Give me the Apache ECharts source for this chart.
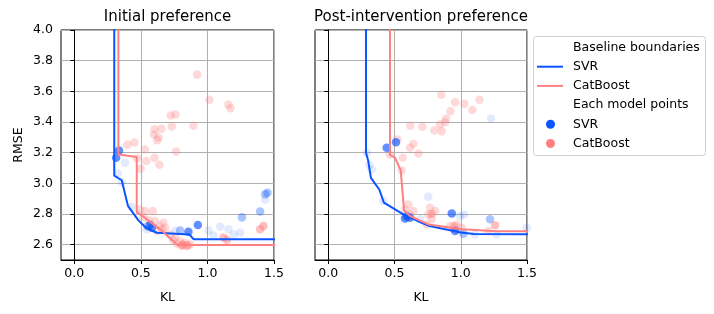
<!DOCTYPE html>
<html>
<head>
<meta charset="utf-8">
<script src="https://cdn.jsdelivr.net/npm/echarts/dist/echarts.min.js"></script>
<style>html,body{margin:0;padding:0;background:#fff}#c{width:714px;height:314px}</style>
</head>
<body>
<div id="c"></div>
<script>
// ---- data ----
const panelTitles = ['Initial preference', 'Post-intervention preference'];
const xTicks = [0.0, 0.5, 1.0, 1.5];
const yTicks = [2.6, 2.8, 3.0, 3.2, 3.4, 3.6, 3.8, 4.0];
const xLabel = 'KL';
const yLabel = 'RMSE';

// Baseline boundaries [KL, RMSE]
const svrBoundaryInitial = [[0.30,4.3],[0.30,3.05],[0.356,3.02],[0.403,2.853],[0.48,2.76],[0.544,2.706],[0.62,2.678],[0.866,2.666],[0.895,2.636],[1.6,2.636]];
const catBoundaryInitial = [[0.331,4.3],[0.331,3.188],[0.469,3.171],[0.469,2.81],[0.52,2.782],[0.58,2.742],[0.66,2.69],[0.72,2.64],[0.775,2.598],[1.6,2.598]];
const svrBoundaryPost = [[0.285,4.3],[0.285,3.2],[0.302,3.145],[0.322,3.036],[0.385,2.96],[0.42,2.874],[0.567,2.797],[0.705,2.743],[0.755,2.724],[1.0,2.68],[1.1,2.669],[1.6,2.667]];
const catBoundaryPost = [[0.466,4.3],[0.466,3.184],[0.504,3.167],[0.547,3.084],[0.572,2.825],[0.617,2.787],[0.755,2.732],[1.008,2.70],[1.27,2.688],[1.6,2.687]];

// Each model points, grouped by how strongly they show
const svrPointsInitialStrong = [[0.336,3.214],[0.314,3.167],[0.569,2.728],[0.582,2.711],[0.857,2.685],[0.928,2.728]];
const svrPointsInitialMedium = [[0.795,2.693],[1.259,2.778],[1.396,2.817],[1.434,2.928],[1.451,2.939],[0.55,2.72]];
const svrPointsInitialFaint = [[0.381,3.134],[0.326,3.064],[0.356,3.006],[0.431,2.845],[0.544,2.70],[1.008,2.693],[1.096,2.717],[1.045,2.659],[1.158,2.70],[1.196,2.667],[1.246,2.678],[1.434,2.895],[0.76,2.69]];
const catPointsInitialMedium = [[1.12,2.646],[1.146,2.63],[1.396,2.70],[1.421,2.721],[0.81,2.60],[0.85,2.595]];
const catPointsInitialFaint = [
  [0.923,3.709],[1.015,3.545],[1.158,3.514],[1.173,3.49],[0.725,3.442],[0.759,3.449],[0.895,3.375],[0.732,3.371],
  [0.602,3.353],[0.654,3.356],[0.599,3.319],[0.632,3.299],[0.622,3.281],[0.451,3.266],[0.398,3.251],[0.529,3.221],
  [0.765,3.208],[0.471,3.164],[0.602,3.167],[0.541,3.145],[0.639,3.121],[0.499,3.095],
  [0.494,2.83],[0.532,2.819],[0.589,2.819],[0.519,2.78],[0.607,2.754],[0.669,2.743],[0.644,2.721],[0.682,2.711],
  [0.620,2.689],[0.72,2.667],[0.757,2.646],[0.795,2.623],[0.832,2.613],[0.870,2.602],[0.807,2.591],[0.77,2.607],
  [0.845,2.591],[0.56,2.76],[0.66,2.70],[0.74,2.63],[0.82,2.60]
];

const svrPointsPostStrong = [[0.441,3.232],[0.511,3.268],[0.592,2.786],[0.617,2.776],[0.579,2.771],[0.957,2.689],[0.932,2.804]];
const svrPointsPostMedium = [[1.02,2.672],[1.221,2.765],[0.60,2.78]];
const svrPointsPostFaint = [[1.229,3.423],[0.328,3.09],[0.29,3.2],[0.415,2.884],[0.755,2.913],[0.693,2.765],[0.995,2.786],[1.025,2.797],[1.108,2.667],[1.272,2.667],[1.498,2.71],[0.31,3.12]];
const catPointsPostMedium = [[1.259,2.726],[0.95,2.72],[0.78,2.80]];
const catPointsPostFaint = [
  [0.853,3.577],[0.957,3.529],[1.027,3.519],[1.141,3.545],[1.088,3.479],[0.922,3.470],[0.889,3.421],[0.881,3.399],
  [0.844,3.384],[0.856,3.340],[0.801,3.345],[0.710,3.369],[0.619,3.375],[0.521,3.286],[0.642,3.258],[0.617,3.232],
  [0.680,3.195],[0.466,3.188],[0.562,3.167],[0.554,3.084],
  [0.579,2.83],[0.642,2.819],[0.617,2.797],[0.768,2.841],[0.806,2.819],[0.755,2.797],[0.781,2.765],[0.743,2.732],
  [0.604,2.862],[0.919,2.721],[0.970,2.732],[1.008,2.711],[0.957,2.70],[1.208,2.689]
];

const legendItems = ['Baseline boundaries', 'SVR', 'CatBoost', 'Each model points', 'SVR', 'CatBoost'];

// ---- styling ----
const BLUE = '#0a55ff';
const SALMON = '#ff8080';
const FONT = 'DejaVu Sans';
const FS = 12.5;

const chart = echarts.init(document.getElementById('c'), null, {renderer: 'canvas'});

const grids = [
  {left: 61, top: 30, width: 213, height: 230},
  {left: 315, top: 30, width: 212, height: 230}
].map(g => Object.assign(g, {show: true, borderColor: '#000', borderWidth: 1, backgroundColor: 'transparent', containLabel: false}));

function xAxis(i) {
  return {
    type: 'value', gridIndex: i, min: -0.1, max: 1.5,
    name: xLabel, nameLocation: 'middle', nameGap: 31,
    nameTextStyle: {fontFamily: FONT, fontSize: FS, color: '#000'},
    axisLine: {show: true, lineStyle: {color: '#000', width: 1}},
    axisTick: {show: true, length: 4, lineStyle: {color: '#000'}, customValues: xTicks},
    axisLabel: {show: true, margin: 7, fontFamily: FONT, fontSize: FS, color: '#000', customValues: xTicks, formatter: v => v.toFixed(1)},
    splitLine: {show: true, lineStyle: {color: '#b0b0b0', width: 1}}
  };
}
function yAxis(i) {
  return {
    type: 'value', gridIndex: i, min: 2.5, max: 4.0,
    name: i === 0 ? yLabel : '', nameLocation: 'middle', nameGap: 36,
    nameTextStyle: {fontFamily: FONT, fontSize: FS, color: '#000'},
    axisLine: {show: true, lineStyle: {color: '#000', width: 1}},
    axisTick: {show: true, length: 4, lineStyle: {color: '#000'}, customValues: yTicks},
    axisLabel: {show: i === 0, margin: 8, fontFamily: FONT, fontSize: FS, color: '#000', customValues: yTicks, formatter: v => v.toFixed(1)},
    splitLine: {show: true, lineStyle: {color: '#b0b0b0', width: 1}}
  };
}

function scatter(i, data, color, opacity) {
  return {
    type: 'scatter', xAxisIndex: i, yAxisIndex: i, data: data,
    symbol: 'circle', symbolSize: 8.5, z: 2,
    itemStyle: {color: color, opacity: opacity, borderWidth: 0},
    emphasis: {disabled: true}, silent: true
  };
}
function line(i, data, color) {
  return {
    type: 'line', xAxisIndex: i, yAxisIndex: i, data: data,
    showSymbol: false, symbol: 'none', clip: true, z: 3,
    lineStyle: {color: color, width: 2}, emphasis: {disabled: true}, silent: true
  };
}

const series = [
  scatter(0, svrPointsInitialFaint, BLUE, 0.12),
  scatter(0, catPointsInitialFaint, SALMON, 0.3),
  scatter(0, svrPointsInitialMedium, BLUE, 0.35),
  scatter(0, catPointsInitialMedium, SALMON, 0.5),
  scatter(0, svrPointsInitialStrong, BLUE, 0.65),
  line(0, svrBoundaryInitial, BLUE),
  line(0, catBoundaryInitial, SALMON),
  scatter(1, svrPointsPostFaint, BLUE, 0.12),
  scatter(1, catPointsPostFaint, SALMON, 0.3),
  scatter(1, svrPointsPostMedium, BLUE, 0.35),
  scatter(1, catPointsPostMedium, SALMON, 0.5),
  scatter(1, svrPointsPostStrong, BLUE, 0.65),
  line(1, svrBoundaryPost, BLUE),
  line(1, catBoundaryPost, SALMON)
];

// legend drawn as graphic
const legX = 533.5, legY = 36.5, rowY0 = 47.5, rowStep = 19.2, textX = 573;
const legendGraphics = [{
  type: 'rect', shape: {x: legX, y: legY, width: 172, height: 119, r: 3},
  style: {fill: 'rgba(255,255,255,0.8)', stroke: '#d0d0d0', lineWidth: 1}, z: 100
}];
legendItems.forEach((t, k) => {
  const y = rowY0 + k * rowStep;
  legendGraphics.push({type: 'text', z: 101, style: {text: t, x: textX, y: y, verticalAlign: 'middle', align: 'left', fontFamily: FONT, fontSize: FS, fill: '#000'}});
  if (k === 1 || k === 2) {
    legendGraphics.push({type: 'line', z: 101, shape: {x1: 537, y1: y, x2: 563, y2: y}, style: {stroke: k === 1 ? BLUE : SALMON, lineWidth: 2}});
  } else if (k === 4 || k === 5) {
    legendGraphics.push({type: 'circle', z: 101, shape: {cx: 550.5, cy: y, r: 4.5}, style: {fill: k === 4 ? BLUE : SALMON}});
  }
});

chart.setOption({
  animation: false,
  backgroundColor: '#fff',
  title: [
    {text: panelTitles[0], left: 167.5, top: 10, padding: 0, textAlign: 'center', textStyle: {fontFamily: FONT, fontSize: 15, fontWeight: 'normal', color: '#000'}},
    {text: panelTitles[1], left: 421, top: 10, padding: 0, textAlign: 'center', textStyle: {fontFamily: FONT, fontSize: 15, fontWeight: 'normal', color: '#000'}}
  ],
  grid: grids,
  xAxis: [xAxis(0), xAxis(1)],
  yAxis: [yAxis(0), yAxis(1)],
  series: series,
  graphic: legendGraphics
});
</script>
</body>
</html>
